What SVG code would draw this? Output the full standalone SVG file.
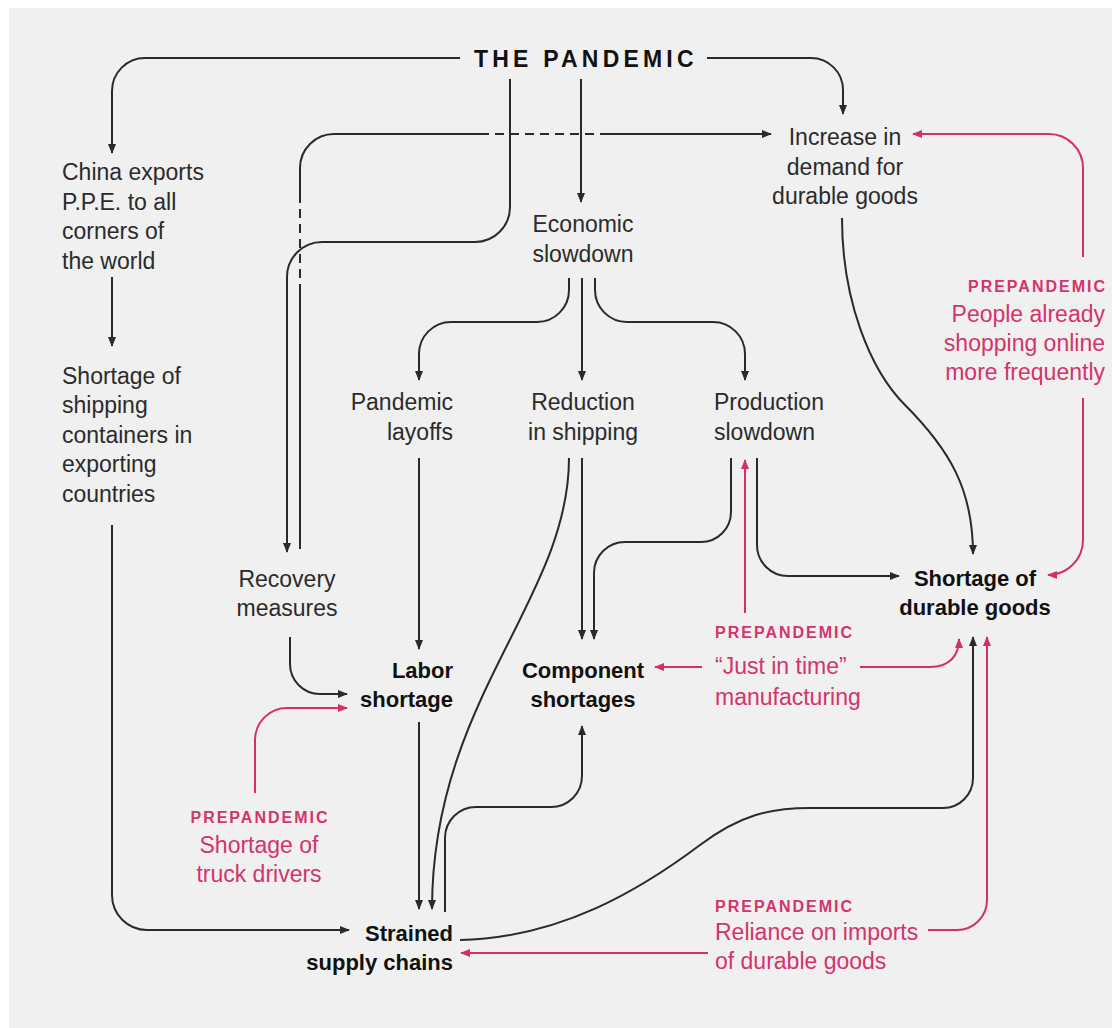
<svg xmlns="http://www.w3.org/2000/svg" width="1112" height="1028" viewBox="0 0 1112 1028">
<style>
text{font-family:"Liberation Sans",Arial,sans-serif;}
.t{font-size:23px;fill:#2b2b2b;}
.b{font-size:22px;font-weight:bold;fill:#111;}
.p{font-size:23px;fill:#d4336b;}
.pl{font-size:16px;font-weight:bold;fill:#d4336b;letter-spacing:2px;}
.title{font-size:23px;font-weight:bold;fill:#111;letter-spacing:4.2px;}
.c{text-anchor:middle;}
.e{text-anchor:end;}
.k{fill:none;stroke:#2a2a2a;stroke-width:2;}
.kd{fill:none;stroke:#2a2a2a;stroke-width:2;stroke-dasharray:9 6;}
.r{fill:none;stroke:#d62e68;stroke-width:2;}
.ka{marker-end:url(#ak);}
.ra{marker-end:url(#ar);}
</style>
<defs>
<marker id="ak" viewBox="0 0 10 8" refX="9" refY="4" markerWidth="10" markerHeight="8" markerUnits="userSpaceOnUse" orient="auto"><path d="M0,0 L10,4 L0,8 z" fill="#2a2a2a"/></marker>
<marker id="ar" viewBox="0 0 10 8" refX="9" refY="4" markerWidth="10" markerHeight="8" markerUnits="userSpaceOnUse" orient="auto"><path d="M0,0 L10,4 L0,8 z" fill="#d62e68"/></marker>
</defs>
<rect x="0" y="0" width="1112" height="1028" fill="#ffffff"/>
<rect x="9" y="8" width="1103" height="1020" fill="#f0f0f0"/>

<g id="connectors">
<path class="k ka" d="M460,58 H145 A33,33 0 0 0 112,91 V153"/>
<path class="k ka" d="M707,58 H811 A32,32 0 0 1 843,90 V114"/>
<path class="k ka" d="M581,79 V202"/>
<path class="k ka" d="M510,79 V207 A35,35 0 0 1 475,242 H322 A35,35 0 0 0 287,277 V552"/>
<path class="k" d="M300,549 V293"/>
<path class="kd" d="M300,293 V197"/>
<path class="k" d="M300,197 V168 A34,34 0 0 1 334,134 H480"/>
<path class="kd" d="M480,134 H605"/>
<path class="k ka" d="M605,134 H771"/>
<path class="k ka" d="M112,277 V346"/>
<path class="k ka" d="M112,525 V895 A35,35 0 0 0 147,930 H349"/>
<path class="k ka" d="M569,278 V290 A32,32 0 0 1 537,322 H451 A32,32 0 0 0 419,354 V380"/>
<path class="k ka" d="M582,278 V380"/>
<path class="k ka" d="M595,278 V290 A32,32 0 0 0 627,322 H713 A32,32 0 0 1 745,354 V380"/>
<path class="k ka" d="M419,458 V649"/>
<path class="k ka" d="M290,637 V664 A30,30 0 0 0 320,694 H347"/>
<path class="r ra" d="M255,793 V740 A32,32 0 0 1 287,708 H347"/>
<path class="k ka" d="M419,722 V909"/>
<path class="k ka" d="M569,458 C569,600 432,700 432,909"/>
<path class="k ka" d="M582,458 V639"/>
<path class="k ka" d="M731,458 V512 A30,30 0 0 1 701,542 H625 A31,31 0 0 0 594,573 V639"/>
<path class="k ka" d="M757,458 V545 A31,31 0 0 0 788,576 H899"/>
<path class="k ka" d="M842,218 C842,300 870,370 905,405 C950,450 973,490 973,554"/>
<path class="r ra" d="M1083,257 V168 A34,34 0 0 0 1049,134 H913"/>
<path class="r ra" d="M1083,398 V540 A35,35 0 0 1 1048,575"/>
<path class="r ra" d="M745,613 V460"/>
<path class="r ra" d="M702,667 H655"/>
<path class="r ra" d="M860,667 H930 C950,667 959,655 959,639"/>
<path class="k ka" d="M460,940 C560,938 640,890 700,845 C740,815 770,808 810,808 H943 A30,30 0 0 0 973,778 V637"/>
<path class="k ka" d="M445,912 V838 A31,31 0 0 1 476,807 H551 A31,31 0 0 0 582,776 V726"/>
<path class="r ra" d="M708,953 H461"/>
<path class="r ra" d="M928,930 H957 A30,30 0 0 0 987,900 V637"/>
</g>

<g id="pandemic"><text class="title" x="474" y="67">THE PANDEMIC</text></g>
<g id="china-exports"><text class="t" x="62" y="180">China exports</text><text class="t" x="62" y="210">P.P.E. to all</text><text class="t" x="62" y="239">corners of</text><text class="t" x="62" y="269">the world</text></g>
<g id="container-shortage"><text class="t" x="62" y="384">Shortage of</text><text class="t" x="62" y="413">shipping</text><text class="t" x="62" y="443">containers in</text><text class="t" x="62" y="472">exporting</text><text class="t" x="62" y="502">countries</text></g>
<g id="demand-increase"><text class="t c" x="845" y="145">Increase in</text><text class="t c" x="845" y="175">demand for</text><text class="t c" x="845" y="204">durable goods</text></g>
<g id="economic-slowdown"><text class="t c" x="583" y="232">Economic</text><text class="t c" x="583" y="262">slowdown</text></g>
<g id="pandemic-layoffs"><text class="t e" x="453" y="410">Pandemic</text><text class="t e" x="453" y="440">layoffs</text></g>
<g id="reduction-shipping"><text class="t c" x="583" y="410">Reduction</text><text class="t c" x="583" y="440">in shipping</text></g>
<g id="production-slowdown"><text class="t" x="714" y="410">Production</text><text class="t" x="714" y="440">slowdown</text></g>
<g id="recovery-measures"><text class="t c" x="287" y="587">Recovery</text><text class="t c" x="287" y="616">measures</text></g>
<g id="labor-shortage"><text class="b e" x="453" y="678">Labor</text><text class="b e" x="453" y="707">shortage</text></g>
<g id="component-shortages"><text class="b c" x="583" y="678">Component</text><text class="b c" x="583" y="707">shortages</text></g>
<g id="durable-shortage"><text class="b c" x="975" y="586">Shortage of</text><text class="b c" x="975" y="615">durable goods</text></g>
<g id="strained-supply"><text class="b e" x="453" y="941">Strained</text><text class="b e" x="453" y="970">supply chains</text></g>
<g id="online-shopping"><text class="pl e" x="1107" y="292">PREPANDEMIC</text><text class="p e" x="1105" y="322">People already</text><text class="p e" x="1105" y="351">shopping online</text><text class="p e" x="1105" y="380">more frequently</text></g>
<g id="just-in-time"><text class="pl" x="715" y="638">PREPANDEMIC</text><text class="p" x="715" y="674">“Just in time”</text><text class="p" x="715" y="705">manufacturing</text></g>
<g id="truck-drivers"><text class="pl c" x="260" y="823">PREPANDEMIC</text><text class="p c" x="259" y="853">Shortage of</text><text class="p c" x="259" y="882">truck drivers</text></g>
<g id="import-reliance"><text class="pl" x="715" y="912">PREPANDEMIC</text><text class="p" x="715" y="940">Reliance on imports</text><text class="p" x="715" y="969">of durable goods</text></g>
</svg>
